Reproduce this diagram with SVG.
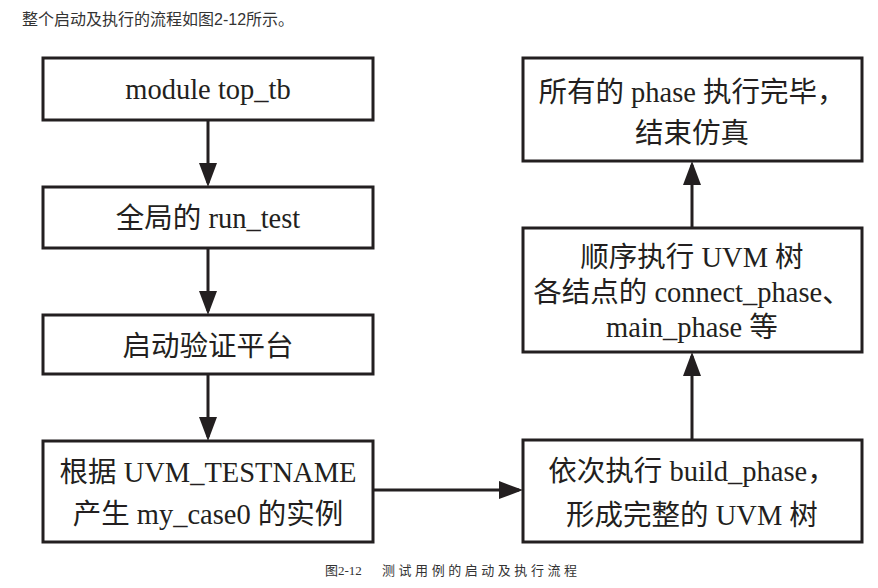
<svg xmlns="http://www.w3.org/2000/svg" width="878" height="588" viewBox="0 0 878 588">
<style>
.box{fill:#fff;stroke:#231f20;stroke-width:3}
.t{font-family:"Liberation Serif","Noto Sans CJK SC",serif;font-size:28.5px;fill:#231f20;text-anchor:middle}
.c{stroke:#231f20;stroke-width:3;fill:none;marker-end:url(#ah)}
.hd{font-family:"Liberation Sans","Noto Sans CJK SC",sans-serif;font-size:16px;fill:#333}
.cap{font-family:"Liberation Serif","Noto Sans CJK SC",serif;font-size:13px;fill:#333}
</style>
<defs>
<marker id="ah" viewBox="0 0 24 18" refX="20" refY="9" markerWidth="24" markerHeight="18" orient="auto" markerUnits="userSpaceOnUse">
<path d="M0,0 L24,9 L0,18 Z" fill="#231f20"/>
</marker>
</defs>
<rect width="878" height="588" fill="#fff"/>
<text class="hd" x="22" y="25">整个启动及执行的流程如图2-12所示。</text>

<g id="n1"><rect class="box" x="43" y="58" width="330" height="62"/><text class="t" x="208" y="99">module top_tb</text></g>
<g id="n2"><rect class="box" x="43" y="187" width="330" height="61"/><text class="t" x="208" y="228">全局的 run_test</text></g>
<g id="n3"><rect class="box" x="43" y="315" width="330" height="59"/><text class="t" x="208" y="356">启动验证平台</text></g>
<g id="n4"><rect class="box" x="43" y="441" width="330" height="101"/><text class="t" x="208" y="482">根据 UVM_TESTNAME</text><text class="t" x="208" y="524">产生 my_case0 的实例</text></g>
<g id="n5"><rect class="box" x="523" y="440" width="339" height="102"/><text class="t" x="692" y="481">依次执行 build_phase，</text><text class="t" x="692" y="525">形成完整的 UVM 树</text></g>
<g id="n6"><rect class="box" x="523" y="228" width="339" height="124"/><text class="t" x="692" y="267">顺序执行 UVM 树</text><text class="t" x="692" y="302">各结点的 connect_phase、</text><text class="t" x="692" y="337">main_phase 等</text></g>
<g id="n7"><rect class="box" x="523" y="58" width="339" height="103"/><text class="t" x="692" y="102">所有的 phase 执行完毕，</text><text class="t" x="692" y="143">结束仿真</text></g>

<g id="connectors">
<line class="c" x1="208" y1="120" x2="208" y2="183"/>
<line class="c" x1="208" y1="248" x2="208" y2="311"/>
<line class="c" x1="208" y1="374" x2="208" y2="437"/>
<line class="c" x1="373" y1="490" x2="519" y2="490"/>
<line class="c" x1="692" y1="440" x2="692" y2="356"/>
<line class="c" x1="692" y1="228" x2="692" y2="165"/>
</g>

<text class="cap" x="325" y="575">图2-12</text>
<text class="cap" x="382" y="575" textLength="195">测试用例的启动及执行流程</text>
</svg>
